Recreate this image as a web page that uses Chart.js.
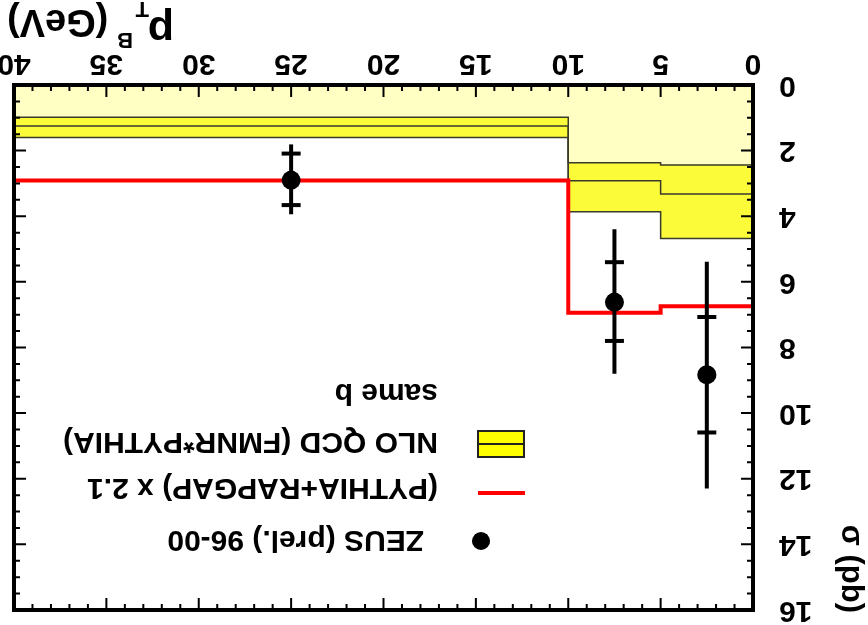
<!DOCTYPE html>
<html><head><meta charset="utf-8">
<script src="https://cdn.jsdelivr.net/npm/chart.js@4.4.0/dist/chart.umd.min.js"></script>
<style>
html,body{margin:0;padding:0;background:#fff;overflow:hidden}
#wrap{width:868px;height:625px;transform:rotate(180deg);transform-origin:50% 50%;}
canvas{display:block}
</style></head><body>
<div id="wrap"><canvas id="c" width="868" height="625"></canvas></div>
<script>
// ---- data ----
const binEdges = [0, 5, 10, 40];
const pythiaRapgap = [6.74, 6.94, 2.91];
const nloLower = [2.44, 2.37, 0.98];
const nloCentral = [3.32, 2.92, 1.25];
const nloUpper = [4.68, 3.86, 1.60];
const zeusX = [2.5, 7.5, 25];
const zeusY = [8.83, 6.62, 2.90];
const zeusStatLo = [7.07, 5.40, 2.09];
const zeusStatHi = [10.59, 7.80, 3.66];
const zeusTotLo = [5.39, 4.40, 1.81];
const zeusTotHi = [12.30, 8.80, 3.94];
const legendLabels = ['ZEUS (prel.) 96-00', '(PYTHIA+RAPGAP) x 2.1', 'NLO QCD (FMNR*PYTHIA)', 'same b'];
const xTitleMain = 'p', xTitleSub = 'T', xTitleSup = 'B', xTitleUnit = '(GeV)';
const yTitle = 'σ (pb)';

const FONT = "'Liberation Sans', Arial, Helvetica, sans-serif";
Chart.defaults.font.family = FONT;
Chart.defaults.font.weight = 'bold';
Chart.defaults.font.size = 30;
Chart.defaults.color = '#000';

const canvas = document.getElementById('c');
const lightFill = '#ffffc4';
const brightFill = '#fbfb3a';

function stepPoints(vals) {
  return binEdges.map((x, i) => ({x: x, y: vals[Math.min(i, vals.length - 1)]}));
}

const framePlugin = {
  id: 'frame',
  afterDatasetsDraw(chart) {
    const ctx = chart.ctx, xs = chart.scales.x, ys = chart.scales.y;
    ctx.save();
    ctx.strokeStyle = '#000'; ctx.lineWidth = 4; ctx.lineCap = 'butt';
    for (let i = 0; i < zeusX.length; i++) {
      const px = xs.getPixelForValue(zeusX[i]);
      ctx.beginPath();
      ctx.moveTo(px, ys.getPixelForValue(zeusTotLo[i]));
      ctx.lineTo(px, ys.getPixelForValue(zeusTotHi[i]));
      ctx.stroke();
      [zeusStatLo[i], zeusStatHi[i]].forEach(v => {
        const py = ys.getPixelForValue(v);
        ctx.beginPath(); ctx.moveTo(px - 9.5, py); ctx.lineTo(px + 9.5, py); ctx.stroke();
      });
    }
    ctx.restore();
  },
  afterDraw(chart) {
    const ctx = chart.ctx, a = chart.chartArea, xs = chart.scales.x, ys = chart.scales.y;
    ctx.save();
    ctx.strokeStyle = '#000'; ctx.lineWidth = 2;
    for (let v = 0; v <= 40; v += 1) {
      const len = v % 5 === 0 ? 12 : 6;
      const px = xs.getPixelForValue(v);
      ctx.beginPath();
      ctx.moveTo(px, a.bottom); ctx.lineTo(px, a.bottom - len);
      ctx.moveTo(px, a.top); ctx.lineTo(px, a.top + len);
      ctx.stroke();
    }
    for (let v = 0; v <= 16; v += 0.5) {
      const len = v % 2 === 0 ? 12 : 6;
      const py = ys.getPixelForValue(v);
      ctx.beginPath();
      ctx.moveTo(a.left, py); ctx.lineTo(a.left + len, py);
      ctx.moveTo(a.right, py); ctx.lineTo(a.right - len, py);
      ctx.stroke();
    }
    ctx.lineWidth = 4;
    ctx.strokeRect(a.left, a.top, a.right - a.left, a.bottom - a.top);

    // axis titles
    ctx.fillStyle = '#000';
    ctx.textBaseline = 'alphabetic';
    ctx.textAlign = 'left';
    ctx.font = 'bold 43px ' + FONT; ctx.fillText(xTitleMain, 694, 608);
    ctx.font = 'bold 22px ' + FONT;
    ctx.fillText(xTitleSub, 719, 623);
    ctx.fillText(xTitleSup, 735, 592);
    ctx.font = 'bold 38px ' + FONT;
    ctx.textAlign = 'right';
    ctx.fillText(xTitleUnit, 861, 615);

    ctx.save();
    ctx.translate(26, 12); ctx.rotate(-Math.PI / 2);
    ctx.font = 'bold 31px ' + FONT; ctx.textAlign = 'right';
    ctx.fillText(yTitle, 0, 0);
    ctx.restore();

    // legend
    ctx.font = 'bold 30px ' + FONT; ctx.textAlign = 'left';
    ctx.beginPath(); ctx.arc(387, 84, 9, 0, Math.PI * 2); ctx.fill();
    ctx.fillText(legendLabels[0], 444, 94);
    ctx.strokeStyle = '#ff0000'; ctx.lineWidth = 4;
    ctx.beginPath(); ctx.moveTo(343, 132); ctx.lineTo(390, 132); ctx.stroke();
    ctx.fillText(legendLabels[1], 430, 146);
    ctx.fillStyle = '#ffff00'; ctx.fillRect(344, 168, 46, 26);
    ctx.strokeStyle = '#222'; ctx.lineWidth = 2; ctx.strokeRect(344, 168, 46, 26);
    ctx.beginPath(); ctx.moveTo(344, 181); ctx.lineTo(390, 181); ctx.stroke();
    ctx.fillStyle = '#000';
    ctx.fillText(legendLabels[2], 430, 192);
    ctx.fillText(legendLabels[3], 430, 241);
    ctx.restore();
  }
};

new Chart(canvas, {
  type: 'line',
  data: {
    datasets: [
      {label: 'NLO lower', data: stepPoints(nloLower), stepped: 'before', borderColor: '#3a3a2a', borderWidth: 1.5,
       backgroundColor: lightFill, fill: 'origin', pointRadius: 0, order: 3},
      {label: 'NLO upper', data: stepPoints(nloUpper), stepped: 'before', borderColor: '#3a3a2a', borderWidth: 1.5,
       backgroundColor: brightFill, fill: '-1', pointRadius: 0, order: 3},
      {label: 'NLO central', data: stepPoints(nloCentral), stepped: 'before', borderColor: '#3a3a2a', borderWidth: 1.5,
       fill: false, pointRadius: 0, order: 2},
      {label: legendLabels[1], data: stepPoints(pythiaRapgap), stepped: 'before', borderColor: '#ff0000', borderWidth: 4,
       fill: false, pointRadius: 0, order: 1},
      {type: 'scatter', label: legendLabels[0], data: zeusX.map((x, i) => ({x: x, y: zeusY[i]})),
       backgroundColor: '#000', borderColor: '#000', borderWidth: 0, pointRadius: 9.5, showLine: false, order: 0}
    ]
  },
  options: {
    responsive: false, animation: false, devicePixelRatio: 1,
    layout: {padding: {left: 0, right: 14, top: 15, bottom: 0}},
    plugins: {legend: {display: false}, tooltip: {enabled: false}},
    scales: {
      x: {type: 'linear', min: 0, max: 40,
          ticks: {stepSize: 5, padding: 4, maxRotation: 0, autoSkip: false, font: {size: 30, weight: 'bold'}, color: '#000'},
          grid: {display: false, drawTicks: false}, border: {display: false},
          afterFit(s) { s.height = 85; s.paddingLeft = 0; s.paddingRight = 0; }},
      y: {type: 'linear', min: 0, max: 16,
          ticks: {stepSize: 2, padding: 26, font: {size: 30, weight: 'bold'}, color: '#000'},
          grid: {display: false, drawTicks: false}, border: {display: false},
          afterFit(s) { s.width = 115; s.paddingTop = 0; s.paddingBottom = 0; }}
    }
  },
  plugins: [framePlugin]
});
</script>
</body></html>
